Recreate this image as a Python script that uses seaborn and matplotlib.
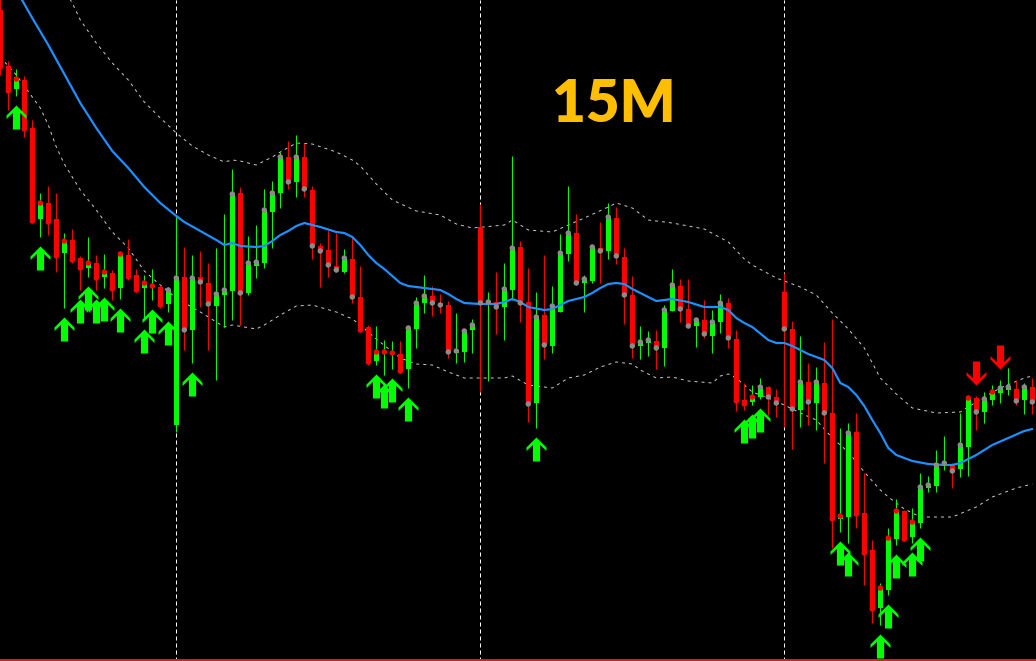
"""15M candlestick chart with moving average, envelope bands and signal arrows."""

import matplotlib
import matplotlib.pyplot as plt
import numpy as np
import seaborn as sns
from matplotlib.path import Path

matplotlib.use("Agg")

# candle data (one bar per 15 minutes, oldest first)
opens = [651, 595, 572, 581, 533, 442, 458, 442, 408, 421, 403, 393, 398, 384, 388, 373, 406, 386, 373, 374,
         374, 357, 236, 384, 331, 384, 378, 355, 366, 370, 468, 368, 395, 398, 449, 468, 504, 479, 504, 471,
         415, 411, 395, 389, 402, 364, 334, 300, 308, 307, 307, 292, 332, 358, 365, 358, 356, 308, 309, 331,
         434, 358, 359, 354, 371, 414, 359, 258, 346, 315, 349, 407, 428, 378, 380, 413, 410, 443, 404, 366,
         315, 318, 320, 313, 350, 375, 352, 335, 341, 325, 339, 358, 322, 261, 259, 264, 274, 264, 369, 332,
         251, 279, 258, 278, 248, 142, 144, 229, 148, 111, 53, 71, 122, 150, 124, 138, 173, 175, 195, 196,
         192, 214, 263, 249, 261, 268, 271, 272, 261, 274]
highs = [666, 600, 592, 585, 541, 468, 475, 468, 428, 432, 405, 424, 406, 407, 391, 408, 422, 392, 386, 392,
         376, 374, 446, 414, 406, 410, 398, 413, 447, 492, 474, 425, 436, 472, 480, 509, 520, 526, 518, 475,
         418, 431, 428, 412, 425, 395, 336, 335, 321, 320, 320, 335, 364, 386, 375, 367, 360, 348, 332, 342,
         457, 369, 389, 398, 505, 420, 393, 369, 406, 375, 427, 475, 447, 386, 416, 439, 458, 454, 413, 385,
         335, 330, 331, 356, 392, 382, 382, 343, 361, 351, 367, 363, 331, 278, 276, 283, 275, 272, 388, 340,
         325, 298, 294, 319, 342, 233, 238, 248, 188, 121, 78, 133, 162, 151, 153, 188, 185, 211, 225, 198,
         248, 265, 265, 269, 276, 281, 293, 281, 278, 283]
lows = [586, 551, 565, 524, 438, 424, 426, 389, 353, 398, 371, 384, 371, 373, 361, 362, 381, 370, 341, 361,
        353, 349, 229, 311, 298, 354, 311, 281, 334, 341, 336, 366, 383, 393, 413, 453, 472, 464, 464, 402,
        374, 384, 389, 388, 358, 329, 296, 296, 286, 292, 289, 273, 313, 348, 345, 348, 303, 298, 299, 308,
        269, 280, 327, 321, 361, 339, 239, 233, 302, 308, 349, 400, 376, 349, 378, 378, 402, 397, 337, 303,
        302, 305, 292, 295, 350, 339, 333, 314, 323, 308, 328, 313, 250, 251, 256, 262, 246, 244, 234, 212,
        234, 236, 231, 198, 113, 129, 118, 133, 76, 38, 36, 66, 116, 121, 118, 133, 169, 169, 191, 173,
        184, 185, 231, 238, 256, 258, 266, 256, 247, 247]
closes = [594, 570, 582, 532, 440, 458, 439, 405, 420, 401, 393, 398, 383, 389, 372, 407, 384, 371, 378, 375,
          356, 371, 383, 331, 383, 379, 357, 367, 371, 467, 368, 398, 399, 451, 468, 504, 479, 504, 472, 415,
          410, 396, 391, 403, 364, 331, 299, 309, 309, 308, 290, 333, 358, 365, 358, 356, 309, 310, 330, 336,
          358, 359, 354, 372, 413, 358, 257, 344, 316, 355, 408, 428, 378, 382, 414, 410, 444, 405, 366, 315,
          319, 321, 313, 351, 376, 352, 335, 341, 327, 339, 358, 323, 260, 257, 264, 274, 264, 258, 332, 252,
          279, 259, 279, 248, 142, 145, 228, 147, 108, 52, 73, 123, 150, 122, 139, 174, 176, 196, 198, 190,
          216, 263, 249, 262, 269, 273, 274, 260, 274, 259]

# moving average (blue) sampled at bar indices
ma_bars = [0, 2, 4, 6, 8, 10, 12, 14, 16, 18, 20, 22, 23, 25, 27, 28, 29, 30, 32, 33, 34, 35, 36, 37, 38, 40,
           42, 43, 44, 45, 46, 47, 48, 50, 51, 52, 55, 56, 57, 58, 60, 62, 63, 64, 65, 66, 68, 69, 70, 71, 73,
           74, 75, 76, 77, 78, 79, 81, 82, 84, 86, 88, 90, 91, 92, 93, 94, 96, 97, 98, 99, 101, 103, 104, 105,
           106, 107, 108, 109, 110, 111, 112, 114, 116, 118, 119, 120, 121, 122, 124, 126, 128, 129]
ma_values = [699, 671, 643, 616, 587, 558, 533, 510, 493, 474, 458, 445, 439, 430, 421, 416, 418, 415, 414, 415,
             420, 426, 430, 435, 438, 434, 429, 428, 424, 416, 406, 398, 392, 378, 375, 374, 371, 367, 362, 358,
             357, 357, 359, 362, 359, 354, 351, 352, 356, 360, 364, 368, 373, 377, 378, 377, 372, 364, 360, 362,
             359, 354, 354, 351, 343, 338, 334, 321, 318, 318, 315, 307, 301, 293, 278, 274, 266, 255, 241, 228,
             213, 206, 200, 197, 196, 196, 198, 202, 206, 216, 223, 230, 232]

# upper and lower envelope (dotted)
upper_bars = [0, 4, 8, 9, 10, 12, 14, 16, 18, 20, 22, 24, 26, 28, 29, 30, 32, 34, 35, 37, 39, 42, 44, 45, 47,
              49, 52, 55, 57, 59, 63, 64, 66, 69, 71, 73, 76, 77, 79, 81, 84, 88, 91, 93, 94, 97, 100, 102,
              104, 106, 108, 110, 112, 114, 117, 120, 123, 125, 128, 129]
upper_values = [781, 721, 671, 658, 641, 618, 598, 581, 559, 543, 528, 515, 506, 499, 501, 500, 496, 504, 509,
                518, 517, 509, 501, 495, 477, 461, 450, 446, 437, 433, 436, 441, 431, 429, 436, 443, 454, 458,
                453, 441, 438, 432, 419, 402, 396, 383, 374, 366, 348, 332, 313, 283, 267, 253, 248, 249, 264,
                273, 283, 285]
lower_bars = [0, 2, 3, 5, 6, 7, 8, 10, 12, 14, 16, 18, 20, 22, 25, 28, 29, 32, 33, 35, 37, 39, 42, 44, 45, 47,
              50, 52, 54, 56, 58, 63, 64, 66, 69, 71, 73, 75, 77, 79, 80, 82, 84, 86, 89, 90, 91, 92, 94, 96,
              98, 100, 102, 104, 106, 108, 110, 111, 113, 115, 119, 122, 124, 127, 129]
lower_values = [604, 586, 575, 553, 536, 514, 497, 471, 451, 429, 413, 390, 376, 363, 349, 334, 336, 332, 336,
                346, 355, 356, 349, 342, 336, 322, 303, 297, 296, 289, 283, 283, 285, 276, 273, 283, 286, 294,
                299, 297, 291, 283, 284, 280, 278, 285, 287, 283, 269, 263, 256, 248, 241, 223, 209, 189, 171,
                164, 152, 144, 144, 154, 164, 173, 177]

# session separators, signals and closing-dot colours
session_bars = [22, 60, 98]
buy_bars = [2, 5, 8, 10, 11, 12, 13, 15, 18, 19, 21, 24, 47, 48, 49, 51, 67, 93, 94, 95, 105, 106, 110, 111,
            112, 114, 115]
sell_bars = [122, 125]
red_dot_bars = list(range(0, 21)) + [45, 46, 47, 48, 49, 50, 92, 93, 94, 104, 105, 107, 108, 109, 110, 111,
                                     112, 113, 114, 121, 124]
timeframe_label = "15M"

BULL = "#00ff00"
BEAR = "#ff0000"
PX = 0.72  # one pixel in points at dpi 100


def arrow_marker(up: bool = True) -> Path:
    verts = [(0, 12), (10, 2.0), (10, -1.5), (3.6, 4.6), (3.6, -12), (-3.6, -12), (-3.6, 4.6),
             (-10, -1.5), (-10, 2.0), (0, 12)]
    if not up:
        verts = [(vx, -vy) for vx, vy in verts]
    codes = [Path.MOVETO] + [Path.LINETO] * (len(verts) - 2) + [Path.CLOSEPOLY]
    return Path(verts, codes)


sns.set_theme(style="dark", rc={"axes.facecolor": "black", "figure.facecolor": "black"})

o = np.array(opens, dtype=float)
h = np.array(highs, dtype=float)
l = np.array(lows, dtype=float)
c = np.array(closes, dtype=float)
x = np.arange(len(o))
bull = c >= o
colors = np.where(bull, BULL, BEAR)

fig = plt.figure(figsize=(10.36, 6.61), dpi=100)
ax = fig.add_axes([0, 0, 1, 1])
ax.set_facecolor("black")

for bar in session_bars:
    ax.axvline(bar, color="white", lw=PX, linestyle=(0, (4, 3)), zorder=1)

sns.lineplot(x=upper_bars, y=upper_values, ax=ax, color="#c8c8c8", lw=PX, linestyle=(0, (3, 4)), zorder=2)
sns.lineplot(x=lower_bars, y=lower_values, ax=ax, color="#c8c8c8", lw=PX, linestyle=(0, (3, 4)), zorder=2)

ax.vlines(x, l, h, colors=colors, lw=PX, zorder=3)
ax.bar(x, np.maximum(np.abs(c - o), 1.0), bottom=np.minimum(o, c), width=0.625, color=colors,
       linewidth=0, zorder=4)

sns.lineplot(x=ma_bars, y=ma_values, ax=ax, color="#1e90ff", lw=2.2 * PX, zorder=5)

dot_colors = ["#ff0000" if i in red_dot_bars else "#8a8a8a" for i in x]
ax.scatter(x, c, s=(5.5 * PX) ** 2, c=dot_colors, linewidths=0, zorder=6)

buy = np.array(buy_bars)
sell = np.array(sell_bars)
ax.scatter(buy, l[buy] - 20.5, marker=arrow_marker(True), s=(24 * PX) ** 2, color=BULL, linewidths=0, zorder=6)
ax.scatter(sell, h[sell] + 23, marker=arrow_marker(False), s=(24 * PX) ** 2, color=BEAR, linewidths=0, zorder=6)

ax.axhline(1.5, color="#d62020", lw=2 * PX, zorder=7)

ax.text(0.5927, 0.8154, timeframe_label, transform=ax.transAxes, ha="center", va="baseline",
        fontsize=42, fontweight="heavy", family="Lato", color="#ffbf00", zorder=8)

ax.set_xlim(-0.0375, 129.4625)
ax.set_ylim(0, 661)
ax.set_xticks([])
ax.set_yticks([])
ax.set_xlabel("")
ax.set_ylabel("")
for spine in ax.spines.values():
    spine.set_visible(False)
ax.grid(False)
if ax.get_legend():
    ax.get_legend().remove()

fig.savefig("out.png", dpi=100, facecolor="black")
plt.close(fig)
